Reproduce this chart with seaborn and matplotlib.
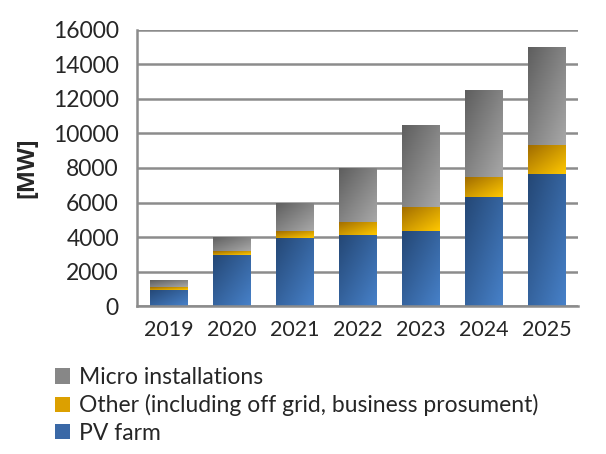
import numpy as np
import pandas as pd
import matplotlib
matplotlib.use("Agg")
import matplotlib.pyplot as plt
import seaborn as sns
from matplotlib.colors import LinearSegmentedColormap
from matplotlib.patches import Patch

# data [MW]
years = ["2019", "2020", "2021", "2022", "2023", "2024", "2025"]
pv_farm = [950, 2950, 3950, 4100, 4350, 6350, 7650]
other = [150, 230, 390, 800, 1390, 1100, 1660]
micro = [400, 820, 1660, 3100, 4760, 5050, 5690]

series_names = ["PV farm", "Other (including off grid, business prosument)", "Micro installations"]
# (dark top-left, light bottom-right)
grad_colors = {
    "PV farm": ("#244775", "#4781c9"),
    "Other (including off grid, business prosument)": ("#a06c00", "#ffc800"),
    "Micro installations": ("#5e5e5e", "#a8a8a8"),
}
legend_colors = {
    "PV farm": "#3a68a6",
    "Other (including off grid, business prosument)": "#dca000",
    "Micro installations": "#878787",
}

df = pd.DataFrame({"year": years, "PV farm": pv_farm,
                   "Other (including off grid, business prosument)": other,
                   "Micro installations": micro})

sns.set_style("white")
plt.rcParams["font.family"] = ["Lato", "DejaVu Sans"]

fig = plt.figure(figsize=(6.06, 4.54), dpi=100)
ax = fig.add_axes([0.226, 0.325, 0.728, 0.61])

bottom = np.zeros(len(years))
layers = []
for name in series_names:
    n_before = len(ax.patches)
    sns.barplot(data=df, x="year", y=name, color=legend_colors[name],
                width=0.59, bottom=bottom, ax=ax, zorder=2, linewidth=0)
    layers.append((name, ax.patches[n_before:]))
    bottom = bottom + df[name].values

# diagonal gradient fill clipped to each bar
gx, gy = np.meshgrid(np.linspace(0, 1, 64), np.linspace(0, 1, 64))
grad = (gx + (1 - gy)) / 2.0
for name, patches in layers:
    cmap = LinearSegmentedColormap.from_list(name, grad_colors[name])
    for p in patches:
        x0, y0 = p.get_x(), p.get_y()
        w, h = p.get_width(), p.get_height()
        im = ax.imshow(grad, cmap=cmap, extent=[x0, x0 + w, y0, y0 + h],
                       origin="lower", aspect="auto", zorder=2.5, vmin=0, vmax=1)
        im.set_clip_path(p)

ax.set_xlim(-0.5, len(years) - 0.5)
ax.set_ylim(0, 16000)
ax.set_yticks(range(0, 16001, 2000))
ax.yaxis.grid(True, color="#8c8c8c", linewidth=1.8, zorder=0)
ax.set_axisbelow(True)
for s in ["top", "right"]:
    ax.spines[s].set_visible(False)
for s in ["left", "bottom"]:
    ax.spines[s].set_color("#8c8c8c")
    ax.spines[s].set_linewidth(1.8)
ax.tick_params(axis="y", length=7, width=1.8, color="#8c8c8c", labelsize=16.5, pad=6)
ax.tick_params(axis="x", length=0, labelsize=15.5, pad=10)
ax.set_xlabel("")
ax.set_ylabel("[MW]", fontsize=17, fontweight="bold", labelpad=10,
              family=["Open Sans", "DejaVu Sans"])

handles = [Patch(facecolor=legend_colors[n], edgecolor="none") for n in series_names[::-1]]
fig.legend(handles, series_names[::-1], loc="upper left", bbox_to_anchor=(0.075, 0.212),
           frameon=False, fontsize=16.5, handlelength=0.65, handleheight=0.65,
           handletextpad=0.4, labelspacing=0.28, borderaxespad=0)

fig.savefig("out.png", dpi=100)
